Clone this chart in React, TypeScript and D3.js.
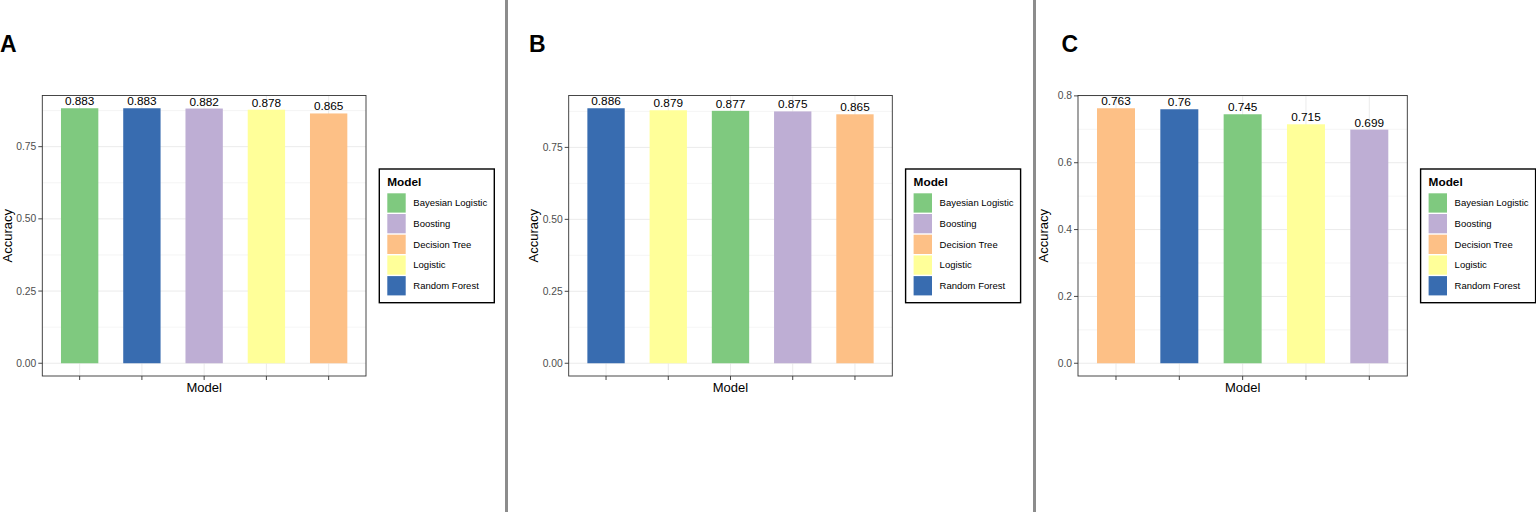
import React from "react";
import * as d3 from "d3";

// ---- Data ----
const legendModels = ["Bayesian Logistic", "Boosting", "Decision Tree", "Logistic", "Random Forest"];
const modelColors = ["#7FC97F", "#BEAED4", "#FDC086", "#FFFF99", "#386CB0"];

const modelsA = ["Bayesian Logistic", "Random Forest", "Boosting", "Logistic", "Decision Tree"];
const accuracyA = [0.883, 0.883, 0.882, 0.878, 0.865];

const modelsB = ["Random Forest", "Logistic", "Bayesian Logistic", "Boosting", "Decision Tree"];
const accuracyB = [0.886, 0.879, 0.877, 0.875, 0.865];

const modelsC = ["Decision Tree", "Random Forest", "Bayesian Logistic", "Logistic", "Boosting"];
const accuracyC = [0.763, 0.76, 0.745, 0.715, 0.699];

const ticksAB = [0, 0.25, 0.5, 0.75];
const ticksC = [0, 0.2, 0.4, 0.6, 0.8];

const panelLetters = ["A", "B", "C"];

const FONT = "'Liberation Sans', Arial, Helvetica, sans-serif";
const colorScale = d3.scaleOrdinal<string, string>().domain(legendModels).range(modelColors);

interface PanelProps {
  letter: string;
  letterX: number;
  left: number;
  right: number;
  models: string[];
  values: number[];
  ticks: number[];
  tickFormat: (v: number) => string;
}

const TOP = 95.5;
const BOTTOM = 376;

function Panel({ letter, letterX, left, right, models, values, ticks, tickFormat }: PanelProps) {
  const maxV = d3.max(values) as number;
  const y = d3.scaleLinear().domain([-0.05 * maxV, 1.05 * maxV]).range([BOTTOM, TOP]);
  const x = d3.scaleBand<string>().domain(models).range([left, right]).paddingInner(0.4).paddingOuter(0.3);
  const step = ticks[1] - ticks[0];
  const minor = ticks.map((t) => t + step / 2).filter((t) => y(t) > TOP && y(t) < BOTTOM);
  const cx = (m: string) => (x(m) as number) + x.bandwidth() / 2;

  const legX = right + 13.3;
  const legY = 169;
  const legW = 115;
  const legH = 133.7;

  return (
    <g>
      <text x={letterX} y={51.5} fontFamily={FONT} fontWeight="bold" fontSize={23} fill="#000">
        {letter}
      </text>
      {/* grid */}
      {minor.map((t) => (
        <line key={"mn" + t} x1={left} x2={right} y1={y(t)} y2={y(t)} stroke="#EBEBEB" strokeWidth={0.5} />
      ))}
      {ticks.map((t) => (
        <line key={"mj" + t} x1={left} x2={right} y1={y(t)} y2={y(t)} stroke="#EBEBEB" strokeWidth={1} />
      ))}
      {models.map((m) => (
        <line key={"vg" + m} x1={cx(m)} x2={cx(m)} y1={TOP} y2={BOTTOM} stroke="#EBEBEB" strokeWidth={1} />
      ))}
      {/* bars */}
      {models.map((m, i) => (
        <rect
          key={"b" + m}
          x={x(m)}
          y={y(values[i])}
          width={x.bandwidth()}
          height={y(0) - y(values[i])}
          fill={colorScale(m)}
        />
      ))}
      {models.map((m, i) => (
        <text
          key={"l" + m}
          x={cx(m)}
          y={y(values[i]) - 3}
          textAnchor="middle"
          fontFamily={FONT}
          fontSize={11.8}
          fill="#000"
        >
          {String(values[i])}
        </text>
      ))}
      {/* border */}
      <rect x={left} y={TOP} width={right - left} height={BOTTOM - TOP} fill="none" stroke="#333" strokeWidth={0.9} />
      {/* y axis */}
      {ticks.map((t) => (
        <g key={"yt" + t}>
          <line x1={left - 4} x2={left} y1={y(t)} y2={y(t)} stroke="#333" strokeWidth={0.9} />
          <text
            x={left - 6}
            y={y(t)}
            dy="0.35em"
            textAnchor="end"
            fontFamily={FONT}
            fontSize={10.3}
            fill="#4D4D4D"
          >
            {tickFormat(t)}
          </text>
        </g>
      ))}
      {/* x axis ticks */}
      {models.map((m) => (
        <line key={"xt" + m} x1={cx(m)} x2={cx(m)} y1={BOTTOM} y2={BOTTOM + 4} stroke="#333" strokeWidth={0.9} />
      ))}
      <text x={(left + right) / 2} y={391.5} textAnchor="middle" fontFamily={FONT} fontSize={13} fill="#000">
        Model
      </text>
      <text
        transform={`translate(${left - 30.5},${(TOP + BOTTOM) / 2}) rotate(-90)`}
        textAnchor="middle"
        fontFamily={FONT}
        fontSize={13}
        fill="#000"
      >
        Accuracy
      </text>
      {/* legend */}
      <rect x={legX} y={legY} width={legW} height={legH} fill="#fff" stroke="#000" strokeWidth={1.4} />
      <text x={legX + 8} y={legY + 17} fontFamily={FONT} fontWeight="bold" fontSize={11.8} fill="#000">
        Model
      </text>
      {legendModels.map((m, i) => (
        <g key={"lg" + m}>
          <rect x={legX + 8} y={legY + 24.3 + i * 20.7} width={18.4} height={19.3} fill={colorScale(m)} />
          <text
            x={legX + 34}
            y={legY + 24.3 + i * 20.7 + 9.65}
            dy="0.35em"
            fontFamily={FONT}
            fontSize={9.5}
            fill="#000"
          >
            {m}
          </text>
        </g>
      ))}
    </g>
  );
}

export default function App() {
  const fmt2 = d3.format(".2f");
  const fmt1 = d3.format(".1f");
  return (
    <svg
      width={1536}
      height={512}
      style={{ position: "absolute", left: 0, top: 0, background: "#fff" }}
    >
      <rect x={0} y={0} width={1536} height={512} fill="#fff" />
      <Panel letter={panelLetters[0]} letterX={0} left={42.3} right={366} models={modelsA} values={accuracyA} ticks={ticksAB} tickFormat={fmt2} />
      <Panel letter={panelLetters[1]} letterX={529} left={568.7} right={892.3} models={modelsB} values={accuracyB} ticks={ticksAB} tickFormat={fmt2} />
      <Panel letter={panelLetters[2]} letterX={1061.5} left={1078} right={1407.3} models={modelsC} values={accuracyC} ticks={ticksC} tickFormat={fmt1} />
      <line x1={506.5} x2={506.5} y1={0} y2={512} stroke="#8C8C8C" strokeWidth={3} />
      <line x1={1034.5} x2={1034.5} y1={0} y2={512} stroke="#8C8C8C" strokeWidth={3} />
    </svg>
  );
}
